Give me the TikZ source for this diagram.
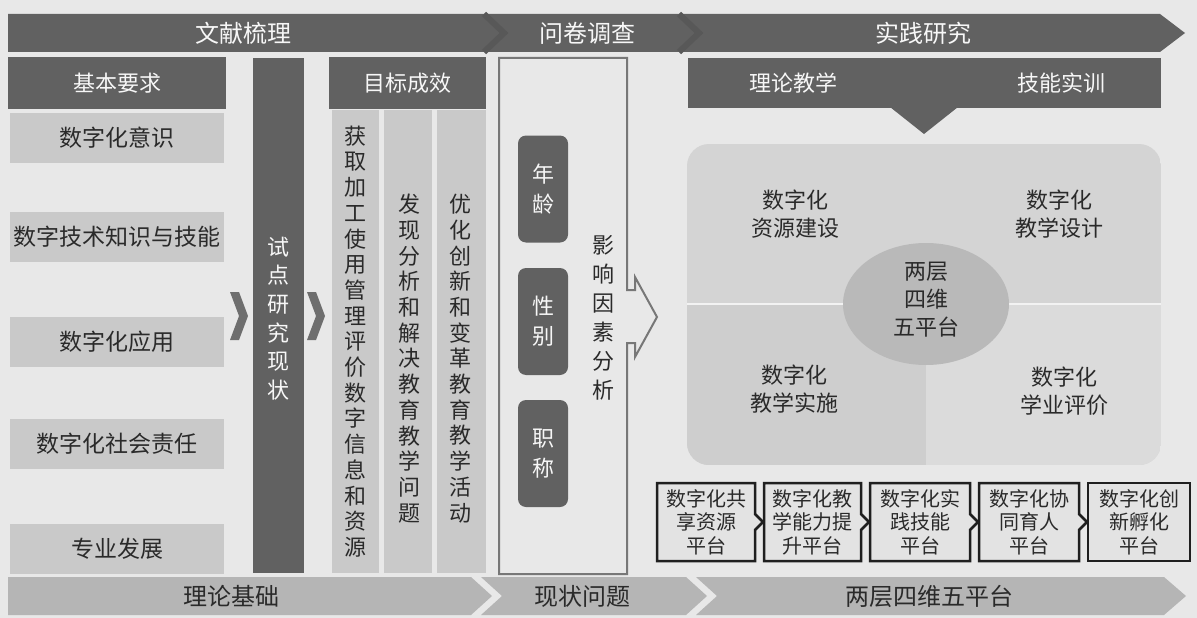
\documentclass[tikz,border=0pt]{standalone}
\usepackage{fontspec}
\newfontfamily\cjk{Noto Sans CJK SC}
\usetikzlibrary{calc,shapes.geometric}
\definecolor{bg}{HTML}{E8E8E8}
\definecolor{dk}{HTML}{616161}
\definecolor{dksep}{HTML}{585858}
\definecolor{lt}{HTML}{C9C9C9}
\definecolor{bot}{HTML}{B5B5B5}
\definecolor{txt}{HTML}{2A2A2A}
\definecolor{wt}{HTML}{F7F7F7}
\definecolor{quad}{HTML}{D4D4D4}
\definecolor{quadb}{HTML}{DBDBDB}
\definecolor{ell}{HTML}{B9B9B9}
\definecolor{outl}{HTML}{777777}
\definecolor{pfill}{HTML}{E3E3E3}
\definecolor{chev}{HTML}{6E6E6E}
\begin{document}
\begin{tikzpicture}[x=1pt,y=-1pt,
  every node/.style={font=\cjk, inner sep=0pt, outer sep=0pt},
  f22/.style={font=\cjk\fontsize{22}{28}\selectfont},
  darkbox/.style={fill=dk, text=wt, f22},
  lightbox/.style={fill=lt, text=txt, font=\cjk\fontsize{23}{28}\selectfont},
  toptxt/.style={text=wt, font=\cjk\fontsize{24}{28}\selectfont},
  bottxt/.style={text=txt, font=\cjk\fontsize{24}{28}\selectfont},
  vcol/.style={text=txt, align=center, font=\cjk\fontsize{22}{25.7}\selectfont},
  rbox/.style={fill=dk, rounded corners=8, text=wt, align=center, minimum width=50, minimum height=107, font=\cjk\fontsize{22}{30}\selectfont},
  quadtxt/.style={text=txt, align=center, f22},
  pbox/.style={minimum height=78, text=txt, align=center, font=\cjk\fontsize{20}{23.5}\selectfont},
  pline/.style={draw=black!88, line width=2.5pt, fill=pfill, line join=miter},
  qline/.style={draw=outl, line width=2pt, fill=bg},
  chevshape/.style={fill=chev}
]
\useasboundingbox (0,0) rectangle (1197,618);
\fill[bg] (0,0) rectangle (1197,618);

% ---------- top banner ----------
\fill[dk] (8,14) -- (1160,14) -- (1185,33) -- (1160,52) -- (8,52) -- cycle;
\draw[dksep, line width=6pt] (484,14) -- (504,33) -- (484,52);
\draw[dksep, line width=6pt] (679,14) -- (699,33) -- (679,52);
\node[toptxt] (tb1) at (243,33) {文献梳理};
\node[toptxt] (tb2) at (587,33) {问卷调查};
\node[toptxt] (tb3) at (923,33) {实践研究};

% ---------- bottom banner ----------
\fill[bot] (8,577) -- (471,577) -- (492,596) -- (471,615) -- (8,615) -- cycle;
\fill[bot] (481,577) -- (686,577) -- (707,596) -- (686,615) -- (481,615) -- (502,596) -- cycle;
\fill[bot] (696,577) -- (1164,577) -- (1186,596) -- (1164,615) -- (696,615) -- (717,596) -- cycle;
\node[bottxt] (bb1) at (231,596) {理论基础};
\node[bottxt] (bb2) at (582,596) {现状问题};
\node[bottxt] (bb3) at (929,596) {两层四维五平台};

% ---------- left column ----------
\node[darkbox, minimum width=218, minimum height=52] (req) at (117,83) {基本要求};
\node[lightbox, minimum width=214, minimum height=50] (l1) at (117,138) {数字化意识};
\node[lightbox, minimum width=214, minimum height=50] (l2) at (117,237) {数字技术知识与技能};
\node[lightbox, minimum width=214, minimum height=50] (l3) at (117,341.5) {数字化应用};
\node[lightbox, minimum width=214, minimum height=50] (l4) at (117,444) {数字化社会责任};
\node[lightbox, minimum width=214, minimum height=50] (l5) at (117,548.5) {专业发展};

% chevrons
\fill[chevshape] (230,292) -- (239,292) -- (248,316) -- (239,340) -- (230,340) -- (239,316) -- cycle;
\fill[chevshape] (307,292) -- (316,292) -- (325,316) -- (316,340) -- (307,340) -- (316,316) -- cycle;

% pilot bar
\node[fill=dk, minimum width=51, minimum height=515] (pilot) at (278.5,315.5) {};
\node[text=wt, align=center, font=\cjk\fontsize{22}{28.6}\selectfont] (pilottxt) at (278.5,318.5) {试\\点\\研\\究\\现\\状};

% ---------- goals ----------
\node[darkbox, minimum width=157, minimum height=52] (goal) at (407.5,83) {目标成效};
\node[fill=lt, minimum width=47, minimum height=463] (c1) at (355.5,341.5) {};
\node[fill=lt, minimum width=48, minimum height=463] (c2) at (408,341.5) {};
\node[fill=lt, minimum width=49, minimum height=463] (c3) at (461.5,341.5) {};
\node[vcol] (c1t) at (355,341.5) {获\\取\\加\\工\\使\\用\\管\\理\\评\\价\\数\\字\\信\\息\\和\\资\\源};
\node[vcol] (c2t) at (409,358.5) {发\\现\\分\\析\\和\\解\\决\\教\\育\\教\\学\\问\\题};
\node[vcol] (c3t) at (460,358.5) {优\\化\\创\\新\\和\\变\\革\\教\\育\\教\\学\\活\\动};

% ---------- questionnaire ----------
\node[minimum width=128, minimum height=516] (q) at (563,316) {};
\draw[qline] (q.north west) -- (q.north east) -- ($(q.east)+(0,-26)$) -- ++(8,0) -- ++(0,-13)
  -- ($(q.east)+(30,1)$) -- ($(q.east)+(8,41)$) -- ++(0,-14) -- ++(-8,0)
  -- (q.south east) -- (q.south west) -- cycle;
\node[rbox] (age) at (543,189) {年\\龄};
\node[rbox] (sex) at (543,321.5) {性\\别};
\node[rbox] (rank) at (543,453.5) {职\\称};
\node[text=txt, align=center, font=\cjk\fontsize{22}{29}\selectfont] (fac) at (603,317.5) {影\\响\\因\\素\\分\\析};

% ---------- practice ----------
\node[fill=dk, minimum width=473, minimum height=50] (rh) at (924.5,83) {};
\fill[dk] (890,107) -- (958,107) -- (924,134) -- cycle;
\node[text=wt, f22] (th) at (793,83) {理论教学};
\node[text=wt, f22] (sk) at (1061,83) {技能实训};

\begin{scope}
\clip[rounded corners=22] (687,144) rectangle (1161,465);
\fill[quad] (687,144) rectangle (1161,465);
\fill[quadb] (926,305) rectangle (1161,465);
\fill[quad!97!black] (687,305) rectangle (926,465);
\draw[draw=white!90!gray, line width=2pt] (687,304) -- (1161,304);
\end{scope}
\node[ellipse, fill=ell, minimum width=166, minimum height=122] (core) at (926,304) {};
\node[text=txt, align=center, f22] (coretxt) at (926,300) {两层\\四维\\五平台};
\node[quadtxt] (qa) at (795,214) {数字化\\资源建设};
\node[quadtxt] (qb) at (1059,214) {数字化\\教学设计};
\node[quadtxt] (qc) at (794,389) {数字化\\教学实施};
\node[quadtxt] (qd) at (1064,391) {数字化\\学业评价};

% ---------- platforms ----------
\node[pbox, minimum width=98] (p1) at (706,522) {};
\node[pbox, minimum width=97] (p2) at (812.5,522) {};
\node[pbox, minimum width=100] (p3) at (920,522) {};
\node[pbox, minimum width=100] (p4) at (1029,522) {};
\node[pbox, minimum width=102] (p5) at (1139,522) {};
\foreach \p in {p1,p2,p3,p4}{
  \draw[pline] (\p.north west) -- (\p.north east) -- ($(\p.east)+(0,-8)$) -- ($(\p.east)+(8,0)$)
    -- ($(\p.east)+(0,8)$) -- (\p.south east) -- (\p.south west) -- cycle;
}
\draw[pline] (p5.north west) rectangle (p5.south east);
\node[pbox] (p1t) at (p1) {数字化共\\享资源\\平台};
\node[pbox] (p2t) at (p2) {数字化教\\学能力提\\升平台};
\node[pbox] (p3t) at (p3) {数字化实\\践技能\\平台};
\node[pbox] (p4t) at (p4) {数字化协\\同育人\\平台};
\node[pbox] (p5t) at (p5) {数字化创\\新孵化\\平台};
\end{tikzpicture}
\end{document}
